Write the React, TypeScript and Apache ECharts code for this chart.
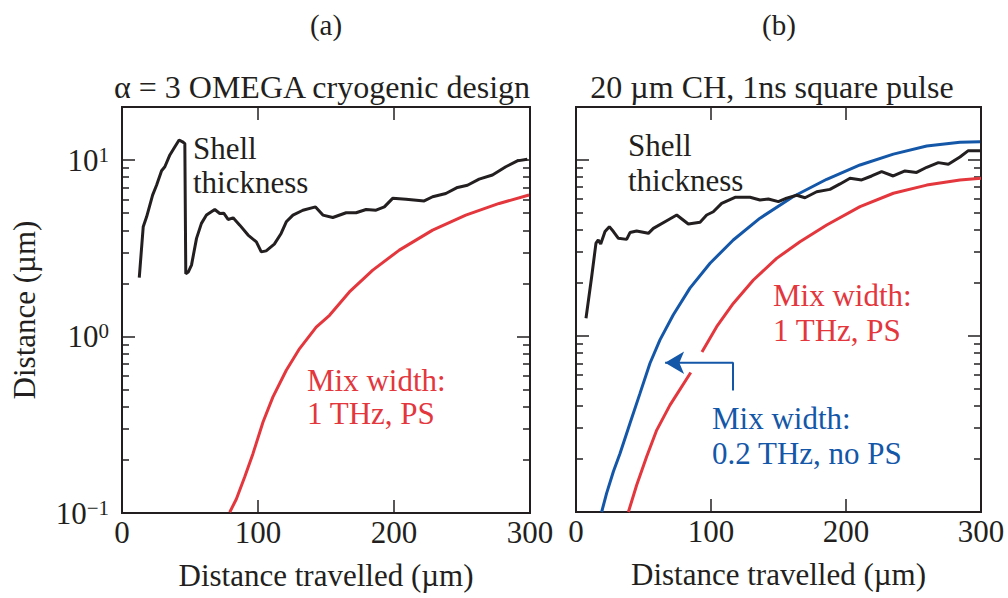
import React, { useEffect, useRef } from "react";
import * as echarts from "echarts";

// ---------- data ----------
// Panel (a): alpha = 3 OMEGA cryogenic design
const shellAX = [12.7, 15.6, 18.1, 22.5, 25.4, 29.1, 31.5, 35.2, 38.9, 42, 44.5, 46.2, 46.9, 48.7, 51.1, 54.8, 58.4, 62.1, 68.2, 71.9, 74.8, 78, 81.7, 86.6, 92.7, 98.8, 102.4, 106, 112, 117, 120.8, 125.7, 133, 142.3, 147.7, 155, 164.8, 172.1, 179.5, 186.8, 192.9, 199, 208.8, 222.2, 228.4, 238.1, 246.7, 254, 262.6, 272.4, 282.2, 290.7, 298];
const shellAY = [2.16, 4.19, 4.77, 6.33, 7.2, 8.7, 9.17, 10.7, 11.9, 13.0, 12.7, 12.4, 2.27, 2.32, 2.54, 3.6, 4.38, 4.88, 5.25, 4.98, 5.0, 4.61, 4.71, 4.28, 3.76, 3.44, 3.02, 3.06, 3.34, 3.84, 4.47, 4.88, 5.2, 5.43, 4.88, 4.73, 5.03, 5.03, 5.25, 5.2, 5.43, 6.07, 6.0, 5.87, 6.2, 6.47, 7.0, 7.2, 7.8, 8.23, 9.17, 9.9, 10.1];
const mixAX = [79.2, 84.1, 90.2, 96.3, 103.7, 111, 120.8, 130.6, 142.8, 152.6, 167.2, 184.4, 203.9, 228.4, 252.8, 277.3, 299.3];
const mixAY = [0.101, 0.12, 0.16, 0.217, 0.328, 0.455, 0.644, 0.855, 1.13, 1.32, 1.79, 2.38, 3.09, 4.01, 4.88, 5.68, 6.34];

// Panel (b): 20 um CH, 1ns square pulse
const shellBX = [7.4, 11.6, 14.8, 16.5, 18.3, 21.5, 24.7, 27.7, 31.4, 37.5, 40, 44.9, 53.6, 57.3, 67.2, 74.6, 83.2, 91.9, 96.8, 101.7, 107.9, 117.8, 128.9, 136.3, 142.5, 149.9, 156, 163.5, 169.6, 178.3, 188.1, 195.6, 203, 211.6, 219, 226.4, 235, 243.7, 252.3, 259.8, 268.4, 275.8, 284.4, 290.6, 299.3];
const shellBY = [1.26, 2.17, 3.37, 3.51, 3.33, 3.92, 4.18, 3.92, 3.59, 3.54, 3.87, 3.95, 3.83, 4.09, 4.52, 4.87, 4.33, 4.43, 4.87, 5.08, 5.67, 6.14, 6.14, 5.93, 6.0, 5.8, 6.07, 6.3, 6.1, 6.6, 6.81, 7.31, 7.87, 7.7, 8.11, 8.59, 8.11, 8.67, 8.5, 9.09, 9.66, 9.45, 10.4, 11.3, 11.3];
const mix02BX = [19, 22.7, 27.7, 32.6, 40, 47.4, 54.8, 62.2, 72.1, 84.4, 99.3, 116.5, 136.3, 161, 185.7, 210.4, 235.1, 259.8, 284.4, 299.3];
const mix02BY = [0.1, 0.128, 0.17, 0.215, 0.319, 0.472, 0.7, 0.95, 1.32, 1.87, 2.59, 3.51, 4.67, 6.2, 7.77, 9.37, 10.8, 12.0, 12.6, 12.7];
// null = gap where the arrow crosses the curve
const mix1BX = [38.8, 44.9, 52.3, 59.8, 69.6, 85.0, 89, 93.3, 104.2, 116.5, 131.4, 148.6, 165.9, 185.7, 210.4, 235.1, 259.8, 284.4, 300];
const mix1BY = [0.1, 0.142, 0.206, 0.292, 0.405, 0.62, null, 0.81, 1.13, 1.53, 2.08, 2.76, 3.43, 4.27, 5.43, 6.47, 7.2, 7.7, 7.87];

// arrow (panel b): from label up, then left to the blue curve
const arrowX = [116.3, 116.3, 66];
const arrowY = [0.49, 0.705, 0.705];

const majorTicks = [0.1, 1, 10];
const minorTicks = [0.2, 0.3, 0.4, 0.5, 0.6, 0.7, 0.8, 0.9, 2, 3, 4, 5, 6, 7, 8, 9];
const xTicks = [0, 100, 200, 300];

const FONT = "'Liberation Serif', 'Times New Roman', serif";
const INK = "#231f20";
const RED = "#e3373d";
const BLUE = "#1457a8";

const zip = (xs: number[], ys: (number | null)[]) =>
  xs.map((x, i) => [x, ys[i] === null ? "-" : ys[i]]);

export default function App() {
  const ref = useRef<HTMLDivElement>(null);
  useEffect(() => {
    if (!ref.current) return;
    const chart = echarts.init(ref.current, undefined, { renderer: "svg" });

    const grids = [
      { left: 122, top: 107, width: 408, height: 406 },
      { left: 576, top: 107, width: 405, height: 405 },
    ];

    const xAxes: any[] = [];
    const yAxes: any[] = [];
    grids.forEach((_, gi) => {
      ["bottom", "top"].forEach((pos) => {
        xAxes.push({
          type: "value",
          gridIndex: gi,
          position: pos,
          min: 0,
          max: 300,
          interval: 100,
          axisLine: { show: true, onZero: false, lineStyle: { color: INK, width: 2 } },
          axisTick: { show: true, inside: true, length: 13, lineStyle: { color: INK, width: 1.5 } },
          splitLine: { show: false },
          axisLabel: {
            show: pos === "bottom",
            margin: 4,
            fontSize: 31,
            fontFamily: FONT,
            color: INK,
          },
          name: pos === "bottom" ? "Distance travelled (\u00b5m)" : "",
          nameLocation: "middle",
          nameGap: 47,
          nameTextStyle: { fontSize: 31, fontFamily: FONT, color: INK },
        });
      });
      ["left", "right"].forEach((pos) => {
        [true, false].forEach((major) => {
          const showLabel = gi === 0 && pos === "left" && major;
          yAxes.push({
            type: "log",
            logBase: 10,
            gridIndex: gi,
            position: pos,
            min: 0.1,
            max: 20,
            axisLine: { show: true, lineStyle: { color: INK, width: 2 } },
            splitLine: { show: false },
            minorTick: { show: false },
            axisTick: {
              show: true,
              inside: true,
              length: major ? 13 : 7,
              customValues: major ? majorTicks : minorTicks,
              lineStyle: { color: INK, width: 1.5 },
            },
            axisLabel: {
              show: showLabel,
              customValues: majorTicks,
              margin: 13,
              formatter: (v: number) => {
                const e = Math.round(Math.log10(v));
                return "{b|10}{s|" + (e < 0 ? "\u2212" + -e : String(e)) + "}";
              },
              rich: {
                b: { fontSize: 31, fontFamily: FONT, color: INK, lineHeight: 32 },
                s: { fontSize: 21, fontFamily: FONT, color: INK, verticalAlign: "top", lineHeight: 24 },
              },
            },
            name: showLabel ? "Distance (\u00b5m)" : "",
            nameLocation: "middle",
            nameGap: 82,
            nameTextStyle: { fontSize: 31, fontFamily: FONT, color: INK },
          });
        });
      });
    });

    const line = (name: string, xs: number[], ys: (number | null)[], color: string, gi: number, extra: any = {}) => ({
      name,
      type: "line",
      xAxisIndex: gi * 2,
      yAxisIndex: gi * 4,
      data: zip(xs, ys),
      showSymbol: false,
      symbol: "none",
      connectNulls: false,
      lineStyle: { color, width: 3 },
      itemStyle: { color },
      z: 3,
      ...extra,
    });

    const txt = (text: string, x: number, y: number, color: string, size = 31, align = "left") => ({
      type: "text",
      x,
      y,
      style: {
        text,
        fill: color,
        fontSize: size,
        fontFamily: FONT,
        align,
        verticalAlign: "middle",
      },
    });

    chart.setOption({
      animation: false,
      backgroundColor: "#ffffff",
      grid: grids.map((g) => ({ ...g, show: false, containLabel: false })),
      xAxis: xAxes,
      yAxis: yAxes,
      series: [
        line("Mix width 1 THz, PS (a)", mixAX, mixAY, RED, 0),
        line("Shell thickness (a)", shellAX, shellAY, INK, 0),
        line("Mix width 1 THz, PS (b)", mix1BX, mix1BY, RED, 1),
        line("Mix width 0.2 THz, no PS (b)", mix02BX, mix02BY, BLUE, 1),
        line("Shell thickness (b)", shellBX, shellBY, INK, 1),
        {
          name: "arrow",
          type: "line",
          xAxisIndex: 2,
          yAxisIndex: 4,
          data: zip(arrowX, arrowY),
          showSymbol: false,
          symbol: "none",
          lineStyle: { color: BLUE, width: 2 },
          z: 4,
          markPoint: {
            silent: true,
            symbol: "arrow",
            symbolSize: [17, 19],
            symbolRotate: 90,
            itemStyle: { color: BLUE },
            label: { show: false },
            data: [{ coord: [arrowX[2], arrowY[2]] }],
          },
        },
      ],
      graphic: [
        txt("(a)", 326, 25, INK, 29, "center"),
        txt("(b)", 779, 25, INK, 29, "center"),
        txt("\u03b1 = 3 OMEGA cryogenic design", 322, 87, INK, 32, "center"),
        txt("20 \u00b5m CH, 1ns square pulse", 772, 87, INK, 32, "center"),
        txt("Shell", 193, 148, INK),
        txt("thickness", 193, 182, INK),
        txt("Mix width:", 307, 380, RED),
        txt("1 THz, PS", 307, 413, RED),
        txt("Shell", 628, 145, INK),
        txt("thickness", 628, 180, INK),
        txt("Mix width:", 773, 295, RED),
        txt("1 THz, PS", 773, 330, RED),
        txt("Mix width:", 712, 418, BLUE),
        txt("0.2 THz, no PS", 712, 453, BLUE),
      ],
    });
    return () => chart.dispose();
  }, []);
  return (
    <div
      ref={ref}
      style={{ position: "fixed", left: 0, top: 0, width: 1008, height: 598, background: "#fff" }}
    />
  );
}
